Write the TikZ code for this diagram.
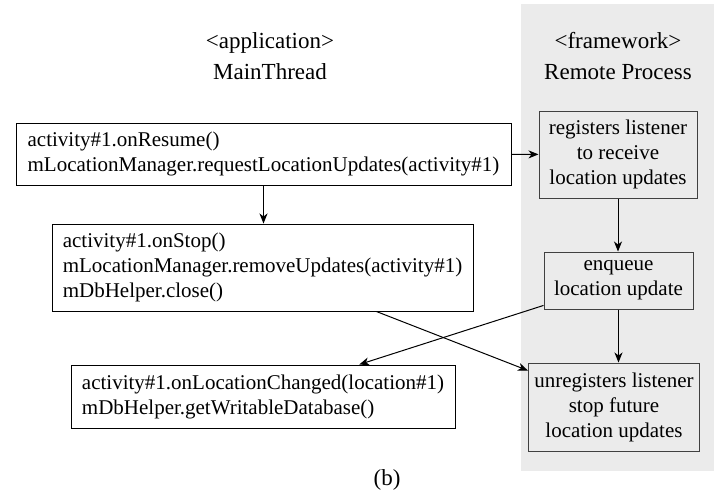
\documentclass[tikz,border=0pt]{standalone}
\usepackage{fontspec}
\setmainfont{Liberation Serif}
\usepackage{tikz}
\usetikzlibrary{calc,positioning,arrows.meta}

\begin{document}
\begin{tikzpicture}[x=0.5pt,y=-0.5pt,
    appbox/.style={draw,fill=white,align=left,inner xsep=4.5pt,line width=0.5pt,font=\fontsize{10.5}{12.5}\selectfont},
    fwbox/.style={draw=black!75,align=center,inner xsep=3pt,line width=0.5pt,font=\fontsize{10.5}{12.5}\selectfont},
    hdr/.style={align=center,font=\fontsize{11.5}{15.5}\selectfont},
    arr/.style={-{Stealth[length=5pt,width=4pt,inset=1.5pt]},line width=0.5pt}]

    \useasboundingbox (0,0) rectangle (714,495);
    \fill[black!8] (521,4) rectangle (714,471);

    \node[hdr] (apphead) at (270,56) {<application>\\MainThread};
    \node[hdr] (fwhead) at (618,56) {<framework>\\Remote Process};

    \node[appbox,minimum width=247.5pt,minimum height=31pt] (resume) at (263.5,154)
        {activity\#1.onResume()\\mLocationManager.requestLocationUpdates(activity\#1)};
    \node[appbox,minimum width=210.5pt,minimum height=43.5pt] (stop) at (262.5,267.5)
        {activity\#1.onStop()\\mLocationManager.removeUpdates(activity\#1)\\mDbHelper.close()};
    \node[appbox,minimum width=192pt,minimum height=31.5pt] (changed) at (263,396.5)
        {activity\#1.onLocationChanged(location\#1)\\mDbHelper.getWritableDatabase()};

    \node[fwbox,minimum width=79pt,minimum height=43.5pt] (register) at (618,154.5)
        {registers listener\\to receive\\location updates};
    \node[fwbox,minimum width=74.5pt,minimum height=28.5pt] (enqueue) at (618.5,280.5)
        {enqueue\\location update};
    \node[fwbox,minimum width=85pt,minimum height=44pt] (unregister) at (614,407)
        {unregisters listener\\stop future\\location updates};

    \node[hdr] (caption) at (387,480) {(b)};

    \draw[arr] (resume) -- (register);
    \draw[arr] (resume.south) -- (resume.south |- stop.north);
    \draw[arr] (register.south) -- (register.south |- enqueue.north);
    \draw[arr] (enqueue.south) -- (enqueue.south |- unregister.north);
    \draw[arr] ($(stop.south west)!0.77!(stop.south east)$) -- ($(unregister.north west)!0.09!(unregister.south west)$);
    \draw[arr] ($(enqueue.north west)!0.93!(enqueue.south west)$) -- ($(changed.north west)!0.75!(changed.north east)$);

\end{tikzpicture}
\end{document}
